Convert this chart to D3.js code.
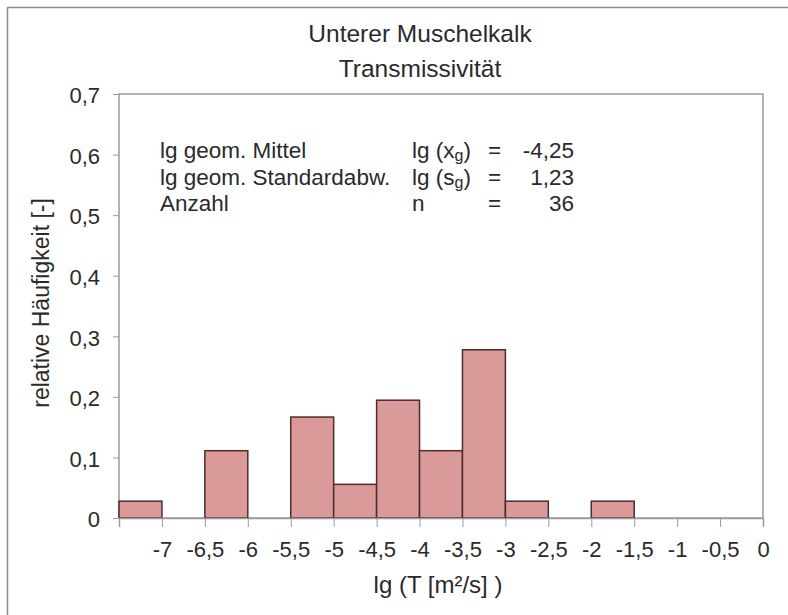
<!DOCTYPE html>
<html>
<head>
<meta charset="utf-8">
<script src="https://cdn.jsdelivr.net/npm/d3@7"></script>
<style>
  body { margin: 0; background: #fff; }
  svg text { font-family: "Liberation Sans", Arial, sans-serif; fill: #2a2a2a; }
</style>
</head>
<body>
<script>
(function() {
  var w = 788;
  var h = 615;

  // bin edges (lg T) and relative frequencies (n = 36)
  var binStarts = [-7.5, -7, -6.5, -6, -5.5, -5, -4.5, -4, -3.5, -3, -2.5, -2, -1.5, -1, -0.5];
  var counts = [1, 0, 4, 0, 6, 2, 7, 4, 10, 1, 0, 1, 0, 0, 0];
  var total = 36;
  var binWidth = 0.5;

  var xTicks = [-7, -6.5, -6, -5.5, -5, -4.5, -4, -3.5, -3, -2.5, -2, -1.5, -1, -0.5, 0];
  var yTicks = [0, 0.1, 0.2, 0.3, 0.4, 0.5, 0.6, 0.7];

  var statLabels = ['lg geom. Mittel', 'lg geom. Standardabw.', 'Anzahl'];
  var statSymbols = [['lg (x', 'g', ')'], ['lg (s', 'g', ')'], ['n', '', '']];
  var statValues = ['-4,25', '1,23', '36'];

  var dataset = binStarts.map((x0, i) => ({ x0: x0, x1: x0 + binWidth, value: counts[i] / total }));

  var fmt = v => String(+v.toFixed(2)).replace('.', ',');

  var margin = { left: 119, top: 94, right: 24, bottom: 97 };

  var svg = d3
    .select('body')
    .append('svg')
    .attr('width', w)
    .attr('height', h);

  // outer frame (only left and top visible)
  svg
    .append('rect')
    .attr('x', 7.5)
    .attr('y', 7.5)
    .attr('width', 900)
    .attr('height', 900)
    .attr('fill', 'none')
    .attr('stroke', '#8a8a8a')
    .attr('stroke-width', 1.5);

  var xScale = d3
    .scaleLinear()
    .domain([-7.5, 0])
    .range([margin.left, w - margin.right - 1]);

  var yScale = d3
    .scaleLinear()
    .domain([0, 0.7])
    .range([h - margin.bottom, margin.top]);

  // plot frame
  svg
    .append('rect')
    .attr('x', xScale(-7.5))
    .attr('y', yScale(0.7))
    .attr('width', xScale(0) - xScale(-7.5))
    .attr('height', yScale(0) - yScale(0.7))
    .attr('fill', '#fff')
    .attr('stroke', '#9a9a9a')
    .attr('stroke-width', 1.5);

  // bars
  svg
    .selectAll('rect.bar')
    .data(dataset.filter(d => d.value > 0))
    .enter()
    .append('rect')
    .attr('class', 'bar')
    .attr('x', d => xScale(d.x0))
    .attr('y', d => yScale(d.value))
    .attr('width', d => xScale(d.x1) - xScale(d.x0))
    .attr('height', d => yScale(0) - yScale(d.value))
    .attr('fill', '#d99a99')
    .attr('stroke', '#4e2c2c')
    .attr('stroke-width', 1.5);

  // x axis
  var xAxis = svg
    .append('g')
    .attr('transform', `translate(0,${yScale(0)})`)
    .call(
      d3.axisBottom(xScale)
        .tickValues(xTicks)
        .tickFormat(fmt)
        .tickSize(9)
        .tickPadding(14)
    );
  xAxis.select('.domain').attr('stroke', '#9a9a9a').attr('stroke-width', 1.5);
  xAxis.selectAll('.tick line').attr('stroke', '#9a9a9a');
  xAxis.selectAll('.tick text').attr('font-size', 22);

  // y axis
  var yAxis = svg
    .append('g')
    .attr('transform', `translate(${xScale(-7.5)},0)`)
    .call(
      d3.axisLeft(yScale)
        .tickValues(yTicks)
        .tickFormat(fmt)
        .tickSize(6)
        .tickPadding(13)
    );
  yAxis.select('.domain').remove();
  yAxis.selectAll('.tick line').attr('stroke', '#9a9a9a');
  yAxis.selectAll('.tick text').attr('font-size', 22).attr('dy', '0.4em');

  // titles
  var cx = (xScale(-7.5) + xScale(0)) / 2;
  var titleX = 420;
  svg
    .append('text')
    .attr('x', titleX)
    .attr('y', 42)
    .attr('text-anchor', 'middle')
    .attr('font-size', 24.5)
    .text('Unterer Muschelkalk');
  svg
    .append('text')
    .attr('x', titleX)
    .attr('y', 77)
    .attr('text-anchor', 'middle')
    .attr('font-size', 24.5)
    .text('Transmissivität');

  // axis titles
  svg
    .append('text')
    .attr('x', cx - 3)
    .attr('y', 593)
    .attr('text-anchor', 'middle')
    .attr('font-size', 24)
    .text('lg (T [m²/s] )');
  svg
    .append('text')
    .attr('transform', `translate(49,${yScale(0.355)}) rotate(-90)`)
    .attr('text-anchor', 'middle')
    .attr('font-size', 23)
    .text('relative Häufigkeit [-]');

  // statistics block
  var stats = svg.append('g').attr('font-size', 22.5);
  statLabels.forEach((label, i) => {
    var y = 158 + i * 26.5;
    stats.append('text').attr('x', 160).attr('y', y).text(label);
    var sym = stats.append('text').attr('x', 412).attr('y', y);
    sym.append('tspan').text(statSymbols[i][0]);
    if (statSymbols[i][1]) {
      sym.append('tspan').attr('font-size', 16).attr('dy', 3).text(statSymbols[i][1]);
      sym.append('tspan').attr('dy', -3).text(statSymbols[i][2]);
    }
    stats.append('text').attr('x', 488).attr('y', y).text('=');
    stats.append('text').attr('x', 574).attr('y', y).attr('text-anchor', 'end').text(statValues[i]);
  });
})();
</script>
</body>
</html>
